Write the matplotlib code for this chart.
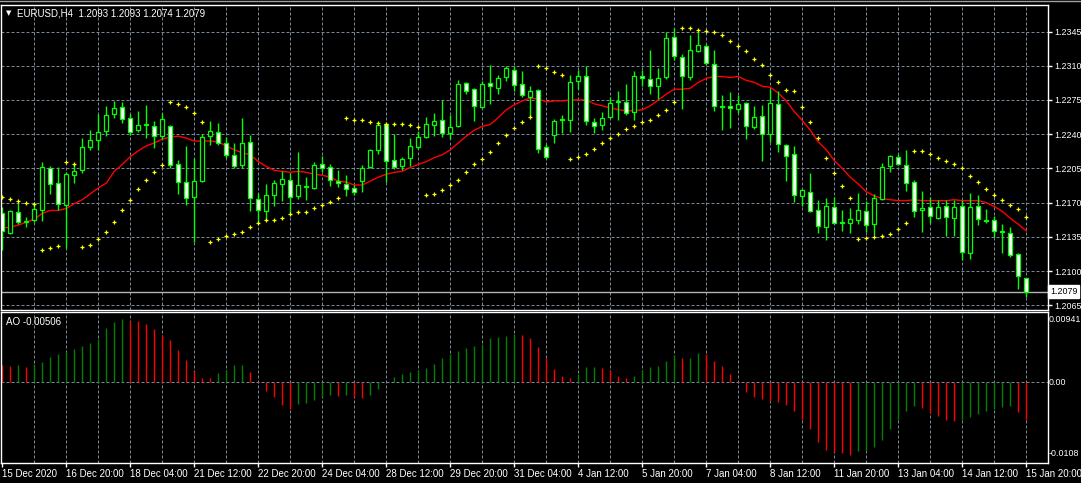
import numpy as np
import matplotlib
matplotlib.use("Agg")
import matplotlib.pyplot as plt
import matplotlib.transforms as mtransforms
from matplotlib.lines import Line2D

plt.rcParams['font.family'] = ['Liberation Sans', 'DejaVu Sans']

# -------------------------
# Data (EURUSD H4)
# -------------------------
opens = [
    1.2159, 1.2139, 1.2160, 1.2150, 1.2152, 1.2162, 1.2205, 1.2190, 1.2168, 1.2198,
    1.2203, 1.2227, 1.2234, 1.2243, 1.2261, 1.2268, 1.2257, 1.2244, 1.2249, 1.2248,
    1.2238, 1.2248, 1.2209, 1.2191, 1.2176, 1.2192, 1.2238, 1.2242, 1.2231, 1.2219,
    1.2208, 1.2232, 1.2174, 1.2161, 1.2178, 1.2189, 1.2193, 1.2177, 1.2186, 1.2185,
    1.2209, 1.2206, 1.2192, 1.2189, 1.2185, 1.2192, 1.2206, 1.2224, 1.2250, 1.2214,
    1.2207, 1.2216, 1.2227, 1.2237, 1.2249, 1.2254, 1.2241, 1.2248, 1.2292, 1.2286,
    1.2268, 1.2292, 1.2287, 1.2298, 1.2306, 1.2291, 1.2278, 1.2285, 1.2227, 1.2239,
    1.2254, 1.2255, 1.2294, 1.2300, 1.2252, 1.2249, 1.2258, 1.2273, 1.2273, 1.2263,
    1.2299, 1.2296, 1.2289, 1.2298, 1.2339, 1.2319, 1.2298, 1.2325, 1.2330, 1.2312,
    1.2269, 1.2269, 1.2266, 1.2272, 1.2247, 1.2259, 1.2240, 1.2271, 1.2229, 1.2220,
    1.2177, 1.2181, 1.2162, 1.2145, 1.2166, 1.2150, 1.2149, 1.2152, 1.2161, 1.2148,
    1.2174, 1.2207, 1.2217, 1.2208, 1.2191, 1.2162, 1.2166, 1.2154, 1.2167, 1.2154,
    1.2167, 1.2119, 1.2167, 1.2152, 1.2152, 1.2141, 1.2139, 1.2117, 1.2093,
]
highs = [
    1.2166, 1.2162, 1.2170, 1.2155, 1.2171, 1.2212, 1.2207, 1.2206, 1.2201, 1.2211,
    1.2236, 1.2244, 1.2261, 1.2269, 1.2274, 1.2273, 1.2261, 1.2264, 1.2270, 1.2253,
    1.2262, 1.2249, 1.2214, 1.2228, 1.2216, 1.2240, 1.2253, 1.2251, 1.2237, 1.2231,
    1.2257, 1.2239, 1.2180, 1.2189, 1.2193, 1.2202, 1.2200, 1.2222, 1.2196, 1.2212,
    1.2218, 1.2210, 1.2203, 1.2198, 1.2188, 1.2208, 1.2225, 1.2251, 1.2251, 1.2240,
    1.2217, 1.2236, 1.2243, 1.2258, 1.2262, 1.2275, 1.2260, 1.2295, 1.2293, 1.2287,
    1.2294, 1.2311, 1.2301, 1.2310, 1.2310, 1.2305, 1.2289, 1.2286, 1.2230, 1.2256,
    1.2260, 1.2301, 1.2306, 1.2310, 1.2257, 1.2263, 1.2278, 1.2284, 1.2291, 1.2305,
    1.2306, 1.2326, 1.2308, 1.2345, 1.2349, 1.2322, 1.2341, 1.2344, 1.2332, 1.2326,
    1.2280, 1.2283, 1.2280, 1.2273, 1.2269, 1.2270, 1.2286, 1.2284, 1.2230, 1.2228,
    1.2184, 1.2200, 1.2173, 1.2175, 1.2176, 1.2162, 1.2165, 1.2180, 1.2172, 1.2179,
    1.2211, 1.2219, 1.2220, 1.2224, 1.2193, 1.2182, 1.2176, 1.2173, 1.2173, 1.2173,
    1.2173, 1.2180, 1.2178, 1.2163, 1.2156, 1.2148, 1.2145, 1.2118, 1.2093,
]
lows = [
    1.2122, 1.2138, 1.2148, 1.2145, 1.2150, 1.2151, 1.2179, 1.2162, 1.2124, 1.2190,
    1.2200, 1.2224, 1.2224, 1.2238, 1.2257, 1.2251, 1.2239, 1.2242, 1.2236, 1.2226,
    1.2235, 1.2205, 1.2179, 1.2168, 1.2130, 1.2191, 1.2229, 1.2229, 1.2216, 1.2205,
    1.2205, 1.2161, 1.2149, 1.2152, 1.2167, 1.2172, 1.2158, 1.2174, 1.2173, 1.2184,
    1.2201, 1.2187, 1.2186, 1.2177, 1.2178, 1.2181, 1.2205, 1.2220, 1.2191, 1.2204,
    1.2203, 1.2207, 1.2225, 1.2236, 1.2238, 1.2237, 1.2235, 1.2247, 1.2281, 1.2253,
    1.2267, 1.2271, 1.2281, 1.2294, 1.2284, 1.2278, 1.2258, 1.2221, 1.2215, 1.2231,
    1.2241, 1.2242, 1.2286, 1.2249, 1.2241, 1.2244, 1.2257, 1.2255, 1.2260, 1.2254,
    1.2289, 1.2281, 1.2276, 1.2296, 1.2316, 1.2266, 1.2295, 1.2324, 1.2311, 1.2264,
    1.2244, 1.2246, 1.2262, 1.2235, 1.2245, 1.2213, 1.2232, 1.2222, 1.2192, 1.2171,
    1.2167, 1.2160, 1.2139, 1.2132, 1.2148, 1.2141, 1.2139, 1.2148, 1.2140, 1.2137,
    1.2173, 1.2201, 1.2208, 1.2182, 1.2155, 1.2140, 1.2149, 1.2153, 1.2136, 1.2136,
    1.2111, 1.2112, 1.2147, 1.2149, 1.2135, 1.2118, 1.2114, 1.2082, 1.2074,
]
closes = [
    1.2141, 1.2161, 1.2150, 1.2151, 1.2163, 1.2206, 1.2189, 1.2169, 1.2199, 1.2202,
    1.2227, 1.2234, 1.2242, 1.2260, 1.2267, 1.2256, 1.2242, 1.2249, 1.2250, 1.2238,
    1.2256, 1.2208, 1.2191, 1.2175, 1.2192, 1.2237, 1.2243, 1.2231, 1.2219, 1.2207,
    1.2231, 1.2175, 1.2162, 1.2178, 1.2190, 1.2194, 1.2176, 1.2188, 1.2187, 1.2208,
    1.2205, 1.2193, 1.2190, 1.2184, 1.2181, 1.2205, 1.2224, 1.2249, 1.2213, 1.2206,
    1.2215, 1.2228, 1.2237, 1.2250, 1.2253, 1.2241, 1.2247, 1.2291, 1.2284, 1.2269,
    1.2291, 1.2289, 1.2297, 1.2308, 1.2290, 1.2280, 1.2284, 1.2225, 1.2217, 1.2253,
    1.2256, 1.2293, 1.2299, 1.2253, 1.2248, 1.2257, 1.2272, 1.2274, 1.2262, 1.2300,
    1.2297, 1.2289, 1.2297, 1.2338, 1.2320, 1.2299, 1.2326, 1.2331, 1.2313, 1.2269,
    1.2268, 1.2267, 1.2271, 1.2248, 1.2258, 1.2240, 1.2272, 1.2230, 1.2218, 1.2178,
    1.2183, 1.2161, 1.2146, 1.2167, 1.2149, 1.2149, 1.2153, 1.2162, 1.2147, 1.2175,
    1.2206, 1.2218, 1.2209, 1.2190, 1.2161, 1.2165, 1.2156, 1.2166, 1.2155, 1.2166,
    1.2120, 1.2166, 1.2153, 1.2151, 1.2141, 1.2140, 1.2116, 1.2095, 1.2079,
]
ma = [
    1.2144, 1.2145, 1.2147, 1.2150, 1.2153, 1.2159, 1.2162, 1.2162, 1.2164, 1.2169,
    1.2173, 1.2179, 1.2185, 1.2190, 1.2202, 1.2209, 1.2217, 1.2223, 1.2228, 1.2231,
    1.2235, 1.2237, 1.2238, 1.2236, 1.2233, 1.2233, 1.2233, 1.2232, 1.2228, 1.2224,
    1.2221, 1.2219, 1.2212, 1.2207, 1.2203, 1.2202, 1.2201, 1.2202, 1.2201, 1.2199,
    1.2198, 1.2196, 1.2192, 1.2191, 1.2188, 1.2188, 1.2192, 1.2196, 1.2199, 1.2201,
    1.2202, 1.2206, 1.2209, 1.2212, 1.2216, 1.2219, 1.2224, 1.2231, 1.2238, 1.2244,
    1.2248, 1.2250, 1.2257, 1.2265, 1.2270, 1.2274, 1.2277, 1.2276, 1.2273, 1.2274,
    1.2274, 1.2275, 1.2275, 1.2275, 1.2271, 1.2269, 1.2267, 1.2265, 1.2264, 1.2264,
    1.2265, 1.2269, 1.2275, 1.2281, 1.2286, 1.2286, 1.2287, 1.2293, 1.2297, 1.2299,
    1.2299, 1.2298, 1.2299, 1.2295, 1.2293, 1.2289, 1.2288, 1.2282, 1.2274, 1.2263,
    1.2254, 1.2244, 1.2232, 1.2224, 1.2213, 1.2205, 1.2196, 1.2189, 1.2181, 1.2177,
    1.2174, 1.2173, 1.2172, 1.2172, 1.2173, 1.2172, 1.2172, 1.2172, 1.2172, 1.2173,
    1.2172, 1.2172, 1.2172, 1.2170, 1.2166, 1.2161, 1.2154, 1.2148, 1.2141,
]
sar = [
    1.2176, 1.2174, 1.2172, 1.2170, 1.2169, 1.2122, 1.2124, 1.2126, 1.2212, 1.2210,
    1.2125, 1.2127, 1.2133, 1.2140, 1.2150, 1.2162, 1.2173, 1.2184, 1.2193, 1.2201,
    1.2208, 1.2273, 1.2271, 1.2268, 1.2262, 1.2252, 1.2130, 1.2133, 1.2136, 1.2138,
    1.2140, 1.2145, 1.2149, 1.2152, 1.2152, 1.2154, 1.2158, 1.2160, 1.2160, 1.2164,
    1.2168, 1.2171, 1.2175, 1.2257, 1.2255, 1.2254, 1.2252, 1.2251, 1.2250, 1.2250,
    1.2250, 1.2249, 1.2247, 1.2178, 1.2179, 1.2183, 1.2188, 1.2193, 1.2201, 1.2209,
    1.2215, 1.2222, 1.2231, 1.2239, 1.2246, 1.2252, 1.2258, 1.2310, 1.2308, 1.2304,
    1.2301, 1.2215, 1.2217, 1.2220, 1.2225, 1.2231, 1.2236, 1.2240, 1.2245, 1.2248,
    1.2252, 1.2254, 1.2260, 1.2265, 1.2273, 1.2349, 1.2349, 1.2347, 1.2346, 1.2344,
    1.2341, 1.2335, 1.2330, 1.2325, 1.2317, 1.2311, 1.2301, 1.2293, 1.2285, 1.2284,
    1.2268, 1.2252, 1.2236, 1.2216, 1.2200, 1.2187, 1.2175, 1.2133, 1.2134, 1.2135,
    1.2136, 1.2138, 1.2143, 1.2149, 1.2223, 1.2223, 1.2220, 1.2216, 1.2213, 1.2209,
    1.2205, 1.2197, 1.2191, 1.2184, 1.2178, 1.2173, 1.2168, 1.2163, 1.2155,
]
ao = [
    0.00234, 0.00221, 0.00234, 0.00207, 0.00239, 0.00275, 0.00342, 0.00374, 0.00401, 0.00450,
    0.00491, 0.00531, 0.00585, 0.00725, 0.00801, 0.00842, 0.00824, 0.00815, 0.00774, 0.00707,
    0.00639, 0.00572, 0.00437, 0.00302, 0.00158, 0.00059, 0.00057, 0.00122, 0.00162, 0.00234,
    0.00236, 0.00140, -0.00005, -0.00117, -0.00198, -0.00302, -0.00351, -0.00288, -0.00279, -0.00239,
    -0.00194, -0.00171, -0.00180, -0.00171, -0.00198, -0.00212, -0.00167, -0.00086, 0.00003, 0.00072,
    0.00113, 0.00140, 0.00162, 0.00194, 0.00248, 0.00329, 0.00383, 0.00423, 0.00464, 0.00491,
    0.00518, 0.00599, 0.00612, 0.00614, 0.00648, 0.00639, 0.00590, 0.00477, 0.00329, 0.00180,
    0.00086, 0.00059, 0.00113, 0.00207, 0.00209, 0.00194, 0.00167, 0.00086, 0.00059, 0.00086,
    0.00162, 0.00207, 0.00221, 0.00288, 0.00360, 0.00329, 0.00331, 0.00396, 0.00378, 0.00288,
    0.00221, 0.00113, -0.00004, -0.00126, -0.00194, -0.00221, -0.00248, -0.00257, -0.00302, -0.00383,
    -0.00504, -0.00626, -0.00797, -0.00900, -0.00936, -0.00950, -0.00977, -0.00923, -0.00914, -0.00869,
    -0.00774, -0.00626, -0.00509, -0.00383, -0.00315, -0.00342, -0.00410, -0.00450, -0.00504, -0.00513,
    -0.00509, -0.00464, -0.00423, -0.00383, -0.00356, -0.00329, -0.00315, -0.00396, -0.00506,
]

time_labels = ["15 Dec 2020", "16 Dec 20:00", "18 Dec 04:00", "21 Dec 12:00",
               "22 Dec 20:00", "24 Dec 04:00", "28 Dec 12:00", "29 Dec 20:00",
               "31 Dec 04:00", "4 Jan 12:00", "5 Jan 20:00", "7 Jan 04:00",
               "8 Jan 12:00", "11 Jan 20:00", "13 Jan 04:00", "14 Jan 12:00",
               "15 Jan 20:00"]
price_ticks = [1.2065, 1.2100, 1.2135, 1.2170, 1.2205, 1.2240, 1.2275, 1.2310, 1.2345]
last_price = 1.2079
ao_top, ao_bottom = 0.00941, -0.0108

# -------------------------
# Figure / axes (pixel layout of the terminal window)
# -------------------------
W, H = 1081, 483
BG = "black"
GRID = "#778899"
LIME = "#00ff00"
FONT = 7
AXFONT = 6.4

fig = plt.figure(figsize=(W / 100, H / 100), dpi=100, facecolor=BG)
ax = fig.add_axes([1 / W, 1 - 310 / H, 1047 / W, 305 / H], facecolor=BG)
ax_ao = fig.add_axes([1 / W, 1 - 463 / H, 1047 / W, 151 / H], facecolor=BG)

x = np.arange(len(closes))
o, h, l, c = map(np.array, (opens, highs, lows, closes))
xlim = (-0.16, 130.71)

for a in (ax, ax_ao):
    a.set_xlim(*xlim)
    for s in a.spines.values():
        s.set_color("white")
        s.set_linewidth(1)
    for i in range(4, len(x), 4):
        a.axvline(i, color=GRID, lw=0.72, ls=(0, (3, 2)), zorder=0)

# price panel
for p in price_ticks:
    ax.axhline(p, color=GRID, lw=0.72, ls=(0, (3, 2)), zorder=0)
ax.axhline(last_price, color="#b4b4b4", lw=1, zorder=0.5)

ax.plot(x, ma, color="#ff0000", lw=1, zorder=1)
ax.vlines(x, l, h, color=LIME, lw=1, zorder=2)
body_lo = np.minimum(o, c)
body_h = np.abs(c - o)
fill = np.where(c < o, "white", "black")
ax.bar(x, body_h, bottom=body_lo, width=0.5, color=fill,
       edgecolor=LIME, linewidth=0.9, zorder=2.5)
ax.plot(x, sar, linestyle="none", marker="+", color="#ffff00",
        ms=3, mew=0.9, zorder=3)

ax.set_ylim(1.20602, 1.23721)
ax.set_xticks([])
ax.yaxis.tick_right()
ax.set_yticks(price_ticks)
ax.set_yticklabels([f"{p:.4f}" for p in price_ticks])
ax.tick_params(axis="y", colors="white", labelsize=AXFONT, length=3, pad=1.5, width=1)

tr = mtransforms.blended_transform_factory(ax.transAxes, ax.transData)
ax.text(1.002, last_price, f"{last_price:.4f}", transform=tr, ha="left",
        va="center", fontsize=AXFONT, color="black",
        bbox=dict(boxstyle="square,pad=0.2", facecolor="white", edgecolor="white"))

fig.text(6 / W, 1 - 13 / H, "▼", fontsize=5, color="white", va="center",
         family="DejaVu Sans")
fig.text(17 / W, 1 - 13 / H, "EURUSD,H4  1.2093 1.2093 1.2074 1.2079",
         fontsize=FONT, color="white", va="center")
fig.add_artist(Line2D([0, 1], [1 - 0.5 / H] * 2, color="#a0a0a0", lw=1))

# Awesome Oscillator panel
ao_arr = np.array(ao)
ao_col = np.where(np.diff(ao_arr, prepend=np.inf) > 0, "#008000", "#ff0000")
ax_ao.axhline(0, color=GRID, lw=0.72, ls=(0, (3, 2)), zorder=0)
ax_ao.vlines(x, 0, ao_arr, colors=ao_col, lw=1, zorder=2)
ax_ao.set_ylim(ao_bottom, ao_top)
ax_ao.set_yticks([])

tr_ao = mtransforms.blended_transform_factory(ax_ao.transAxes, ax_ao.transData)
for val, txt, dy in ((ao_top, f"{ao_top:.5f}", -8), (0, "0.00", 0),
                     (ao_bottom, f"{ao_bottom:.4f}", 10)):
    ax_ao.annotate(txt, xy=(1, val), xycoords=tr_ao, xytext=(1, dy),
                   textcoords="offset pixels", ha="left", va="center",
                   fontsize=AXFONT, color="white", annotation_clip=False)

fig.text(6 / W, 1 - 322 / H, f"AO {ao_arr[-1]:.5f}", fontsize=FONT,
         color="white", va="center")

ax_ao.set_xticks(np.arange(0, len(x), 8))
ax_ao.set_xticklabels(time_labels, ha="left")
ax_ao.tick_params(axis="x", colors="white", labelsize=FONT, length=3, pad=1, width=1)

fig.savefig("out.png", dpi=100, facecolor=BG)
